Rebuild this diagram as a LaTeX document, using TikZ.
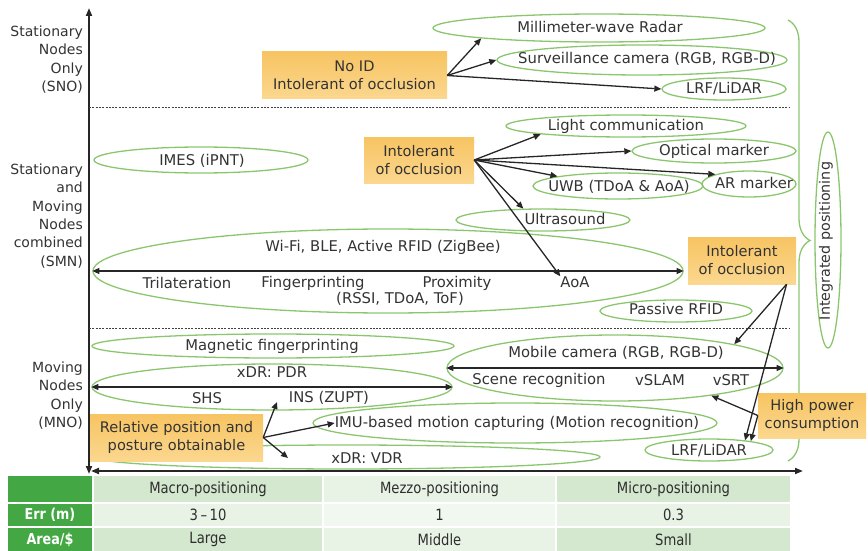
\documentclass[tikz,border=0pt]{standalone}
\usepackage{fontspec}
\setmainfont{DejaVu Sans}
\newfontfamily\tabfont[FakeStretch=0.85]{DejaVu Sans}
\usetikzlibrary{shapes.geometric,arrows.meta,decorations.pathreplacing}

\definecolor{ovalgreen}{HTML}{8BC66E}
\definecolor{boxorangetop}{HTML}{F7C462}
\definecolor{boxorangebot}{HTML}{FBD78F}
\definecolor{inkgray}{HTML}{333333}
\definecolor{tabdark}{HTML}{43A843}
\definecolor{tabmid}{HTML}{D3E8CF}
\definecolor{tablight}{HTML}{E8F3E6}
\definecolor{tabpale}{HTML}{F1F8F0}

\tikzset{
  oval/.style={ellipse, draw=ovalgreen, line width=1.3pt, inner sep=0pt},
  lbl/.style={text=inkgray, inner sep=0pt, font=\fontsize{14.8}{18.3}\selectfont},
  axislbl/.style={lbl, anchor=east, align=right, font=\fontsize{14}{18.3}\selectfont},
  note/.style={rectangle, top color=boxorangetop, bottom color=boxorangebot,
    inner sep=0pt, align=center, text=inkgray, font=\fontsize{14.6}{18}\selectfont},
  conn/.style={-{Triangle[length=7pt,width=6pt]}, line width=1.3pt, draw=black!85},
  dconn/.style={{Triangle[length=7pt,width=6pt]}-{Triangle[length=7pt,width=6pt]},
    line width=1.3pt, draw=black!85},
  axis/.style={{Triangle[length=8pt,width=6pt]}-{Triangle[length=8pt,width=6pt]},
    line width=1.8pt, draw=black!85},
  divider/.style={draw=black!75, line width=0.9pt, dash pattern=on 2pt off 1.3pt},
  cell/.style={rectangle, inner sep=0pt, text=inkgray!90!black,
    font=\tabfont\fontsize{15.5}{17}\selectfont},
  headcell/.style={cell, fill=tabdark, text=white,
    font=\tabfont\bfseries\fontsize{15}{17}\selectfont},
}

\begin{document}
\begin{tikzpicture}[x=1pt, y=-1pt]
\useasboundingbox (0,0) rectangle (868,551);

% ---------- axes and band dividers ----------
\coordinate (ytop) at (89,8);
\coordinate (ybot) at (89,474);
\coordinate (xl) at (91,471);
\coordinate (xr) at (803,471);
\draw[axis] (ybot) -- (ytop);
\draw[axis] (xl) -- (xr);

\coordinate (d1l) at (89,107);  \coordinate (d1r) at (790,107);
\coordinate (d2l) at (89,328);  \coordinate (d2r) at (790,328);
\draw[divider] (d1l) -- (d1r);
\draw[divider] (d2l) -- (d2r);

% ---------- band labels ----------
\node[axislbl] (sno) at (83,59.5) {Stationary\\Nodes\\Only\\(SNO)};
\node[axislbl] (smn) at (83,216) {Stationary\\and\\Moving\\Nodes\\combined\\(SMN)};
\node[axislbl] (mno) at (83,395.5) {Moving\\Nodes\\Only\\(MNO)};

% ---------- technology ovals ----------
\node[oval, minimum width=332, minimum height=28] (mmw) at (599,28) {};
\node[oval, minimum width=290, minimum height=30] (surv) at (642,60) {};
\node[oval, minimum width=124, minimum height=22] (lrfa) at (724,89) {};
\node[oval, minimum width=240, minimum height=22] (light) at (626,126) {};
\node[oval, minimum width=164, minimum height=24] (optical) at (714,151) {};
\node[oval, minimum width=94, minimum height=26] (ar) at (749,184) {};
\node[oval, minimum width=170, minimum height=26] (uwb) at (618,186) {};
\node[oval, minimum width=174, minimum height=22] (ultra) at (543,220) {};
\node[oval, minimum width=214, minimum height=26] (imes) at (201,160) {};
\node[oval, minimum width=590, minimum height=84] (wifi) at (388,271) {};
\node[oval, minimum width=152, minimum height=22] (passive) at (676,311) {};
\node[oval, minimum width=362, minimum height=24] (magnetic) at (273,346) {};
\node[oval, minimum width=360, minimum height=46] (pdr) at (272,387) {};
\node[oval, minimum width=336, minimum height=66] (mobile) at (615,368) {};
\node[oval, minimum width=404, minimum height=40] (imu) at (515,423) {};
\node[oval, minimum width=506, minimum height=24] (vdr) at (347,457) {};
\node[oval, minimum width=128, minimum height=22] (lrfb) at (709,450) {};
\node[oval, minimum width=26, minimum height=216] (integ) at (828,240) {};

% ---------- oval texts ----------
\node[lbl] (mmwtxt) at (600,27) {Millimeter-wave Radar};
\node[lbl] (survtxt) at (647,59) {Surveillance camera (RGB, RGB-D)};
\node[lbl] (lrfatxt) at (724,89) {LRF/LiDAR};
\node[lbl] (lighttxt) at (626,126) {Light communication};
\node[lbl] (opttxt) at (714,151) {Optical marker};
\node[lbl] (artxt) at (754,183) {AR marker};
\node[lbl] (uwbtxt) at (619,187) {UWB (TDoA \& AoA)};
\node[lbl] (ultratxt) at (565,219) {Ultrasound};
\node[lbl] (imestxt) at (202,161) {IMES (iPNT)};
\node[lbl] (wifitxt) at (383,247) {Wi-Fi, BLE, Active RFID (ZigBee)};
\node[lbl] (trilat) at (187,283) {Trilateration};
\node[lbl] (fprint) at (313,283) {Fingerprinting};
\node[lbl] (prox) at (457,283) {Proximity};
\node[lbl] (rssi) at (400,299) {(RSSI, TDoA, ToF)};
\node[lbl] (aoatxt) at (575,282) {AoA};
\node[lbl] (passtxt) at (676,309) {Passive RFID};
\node[lbl] (magtxt) at (272,346) {Magnetic fingerprinting};
\node[lbl] (pdrtxt) at (272,372) {xDR: PDR};
\node[lbl] (shs) at (207,398) {SHS};
\node[lbl] (ins) at (329,398) {INS (ZUPT)};
\node[lbl] (mobtxt) at (616,353) {Mobile camera (RGB, RGB-D)};
\node[lbl] (scene) at (539,380) {Scene recognition};
\node[lbl] (vslam) at (660,380) {vSLAM};
\node[lbl] (vsrt) at (731,380) {vSRT};
\node[lbl] (imutxt) at (517,423) {IMU-based motion capturing (Motion recognition)};
\node[lbl] (vdrtxt) at (367,458) {xDR: VDR};
\node[lbl] (lrfbtxt) at (709,451) {LRF/LiDAR};
\node[lbl, rotate=90, font=\fontsize{14.3}{17}\selectfont] (integtxt) at (826,241) {Integrated positioning};

% ---------- brace grouping all techniques ----------
\coordinate (bracetop) at (788,20);
\coordinate (bracebot) at (788,461);
\draw[ovalgreen, line width=1.3pt, decorate,
      decoration={brace, amplitude=22pt, aspect=0.5}] (bracetop) -- (bracebot);

% ---------- double-headed spans inside ovals ----------
\draw[dconn] (wifi.west) -- (wifi.east);
\draw[dconn] (pdr.west) -- (pdr.east);
\draw[dconn] (mobile.west) -- (mobile.east);

% ---------- property notes ----------
\node[note, minimum width=185, minimum height=47] (noid) at (354.5,75.5)
  {No ID\\Intolerant of occlusion};
\node[note, minimum width=110, minimum height=46] (occl) at (419,160)
  {Intolerant\\of occlusion};
\node[note, minimum width=108, minimum height=47] (occr) at (742,260.5)
  {Intolerant\\of occlusion};
\node[note, minimum width=173, minimum height=47] (relpos) at (176.5,437.5)
  {Relative position and\\posture obtainable};
\node[note, minimum width=108, minimum height=45] (power) at (812,415.5)
  {High power\\consumption};

% ---------- connectors ----------
\draw[conn] (noid.east) -- (mmw.south west);
\draw[conn] (noid.east) -- (surv.west);
\draw[conn] (noid.east) -- (lrfa.west);

\draw[conn] (occl.east) -- (light.south west);
\draw[conn] (occl.east) -- (optical.west);
\draw[conn] (occl.east) -- (ar.north west);
\draw[conn] (occl.east) -- (uwb.north west);
\draw[conn] (occl.east) -- (ultra.150);
\draw[conn] (occl.east) -- (aoatxt.north west);

\draw[conn] (occr.332) -- (mobile.north east);
\draw[conn] (occr.332) -- (lrfb.15);

\draw[conn] (power.west) -- (mobile.344);
\draw[conn] (power.west) -- (lrfb.12);

\coordinate (instip) at (277,402);
\coordinate (vdrtip) at (288,458);
\draw[conn] (relpos.east) -- (instip);
\draw[conn] (relpos.east) -- (imutxt.west);
\draw[conn] (relpos.east) -- (vdrtip);

% ---------- scale table ----------
\node[headcell, minimum width=84, minimum height=26] (h0) at (50,489) {};
\node[cell, fill=tabmid, minimum width=228, minimum height=26] (h1) at (208,489) {Macro-positioning};
\node[cell, fill=tablight, minimum width=231, minimum height=26] (h2) at (439.5,489) {Mezzo-positioning};
\node[cell, fill=tabmid, minimum width=233, minimum height=26] (h3) at (673.5,489) {Micro-positioning};

\node[headcell, minimum width=84, minimum height=22] (e0) at (50,515) {Err (m)};
\node[cell, fill=tablight, minimum width=228, minimum height=22] (e1) at (208,515) {3\,–\,10};
\node[cell, fill=tabpale, minimum width=231, minimum height=22] (e2) at (439.5,515) {1};
\node[cell, fill=tablight, minimum width=233, minimum height=22] (e3) at (673.5,515) {0.3};

\node[headcell, minimum width=84, minimum height=23] (a0) at (50,539.5) {Area/\$};
\node[cell, fill=tabmid, minimum width=228, minimum height=23] (a1) at (208,539.5) {Large};
\node[cell, fill=tablight, minimum width=231, minimum height=23] (a2) at (439.5,539.5) {Middle};
\node[cell, fill=tabmid, minimum width=233, minimum height=23] (a3) at (673.5,539.5) {Small};
\end{tikzpicture}
\end{document}
